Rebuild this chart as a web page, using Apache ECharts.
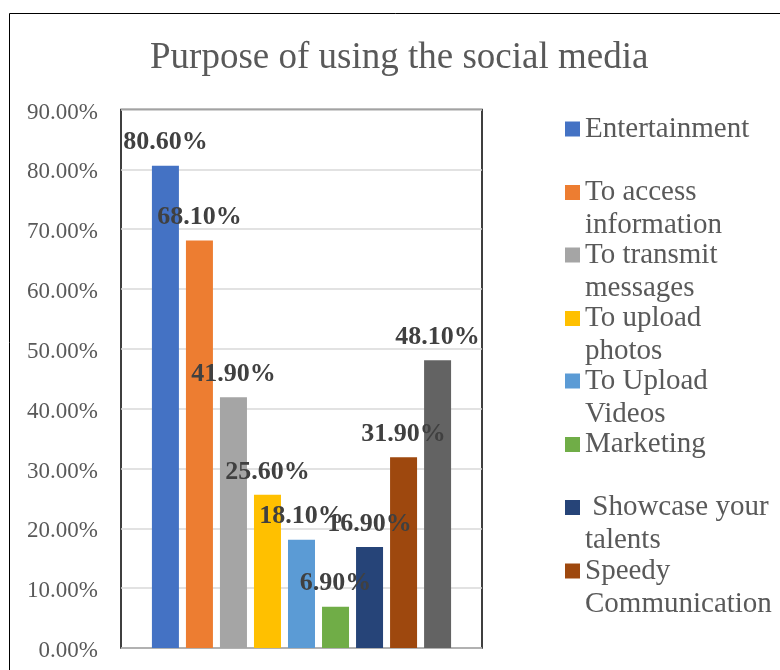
<!DOCTYPE html>
<html>
<head>
<meta charset="utf-8">
<title>Purpose of using the social media</title>
<script src="https://cdn.jsdelivr.net/npm/echarts@6/dist/echarts.min.js"></script>
<style>
  html, body { margin: 0; padding: 0; background: #fff; }
  #chart { width: 780px; height: 670px; }
</style>
</head>
<body>
<div id="chart"></div>
<script>
// Purposes surveyed (one bar each)
const categories = [
  'Entertainment',
  'To access information',
  'To transmit messages',
  'To upload photos',
  'To Upload Videos',
  'Marketing',
  ' Showcase your talents',
  'Speedy Communication',
  'Others'
];
// Share of respondents, in percent
const values = [80.6, 68.1, 41.9, 25.6, 18.1, 6.9, 16.9, 31.9, 48.1];
// Legend text as wrapped in the side panel (last purpose has no entry)
const legendText = [
  'Entertainment',
  'To access\ninformation',
  'To transmit\nmessages',
  'To upload\nphotos',
  'To Upload\nVideos',
  'Marketing',
  ' Showcase your\ntalents',
  'Speedy\nCommunication'
];
// Y axis range and step
const yMin = 0, yMax = 90, yStep = 10;

const colors = ['#4472C4', '#ED7D31', '#A5A5A5', '#FFC000', '#5B9BD5',
                '#70AD47', '#264478', '#9E480E', '#636363'];
const serif = '"Liberation Serif", "Times New Roman", serif';

const chart = echarts.init(document.getElementById('chart'), null, { renderer: 'canvas' });

const series = categories.map((name, i) => ({
  type: 'bar',
  name: name,
  data: [values[i]],
  barWidth: 27,
  barGap: '26%',
  itemStyle: { color: colors[i] },
  label: {
    show: true,
    position: 'top',
    distance: 10,
    formatter: p => p.value.toFixed(2) + '%',
    fontFamily: serif,
    fontWeight: 'bold',
    fontSize: 26,
    color: '#404040'
  }
}));

// One legend block per entry; wrapped entries get an empty leading line
// so the middle (first real) line lines up with the colour square.
const lineH = 33;
const iconCenters = [129, 192.5, 255, 318.5, 381, 444.5, 507.5, 571];
const legends = legendText.map((txt, i) => {
  const twoLine = txt.indexOf('\n') >= 0;
  const shown = twoLine ? ' \n' + txt : txt;
  return {
    data: [categories[i]],
    orient: 'vertical',
    left: 565,
    top: twoLine ? iconCenters[i] - lineH * 1.5 : iconCenters[i] - lineH / 2,
    padding: 0,
    itemGap: 0,
    icon: 'rect',
    itemWidth: 15,
    itemHeight: 15,
    selectedMode: false,
    formatter: () => shown,
    textStyle: {
      fontFamily: serif,
      fontSize: 29,
      color: '#595959',
      lineHeight: lineH
    }
  };
});

chart.setOption({
  backgroundColor: '#fff',
  animation: false,
  title: {
    text: 'Purpose of using the social media',
    left: 145,
    top: 35,
    textStyle: {
      fontFamily: serif,
      fontSize: 37,
      fontWeight: 'normal',
      color: '#595959'
    }
  },
  legend: legends,
  grid: {
    left: 121,
    top: 109.5,
    right: 298,
    bottom: 22,
    show: true,
    borderColor: '#000',
    borderWidth: 1.5,
    backgroundColor: 'transparent'
  },
  xAxis: {
    type: 'category',
    data: [''],
    axisLine: { show: false },
    axisTick: { show: false },
    axisLabel: { show: false }
  },
  yAxis: {
    type: 'value',
    min: yMin,
    max: yMax,
    interval: yStep,
    axisLine: { show: false },
    axisTick: { show: false },
    splitLine: { lineStyle: { color: '#D9D9D9', width: 1.5 } },
    axisLabel: {
      margin: 23,
      verticalAlign: 'top',
      lineHeight: 6,
      formatter: v => v.toFixed(2) + '%',
      fontFamily: serif,
      fontSize: 23,
      color: '#595959'
    }
  },
  series: series,
  graphic: [{
    type: 'rect',
    shape: { x: 9.5, y: 13.5, width: 900, height: 900 },
    style: { fill: 'none', stroke: '#000', lineWidth: 1 },
    silent: true,
    z: -1
  }]
});
</script>
</body>
</html>
